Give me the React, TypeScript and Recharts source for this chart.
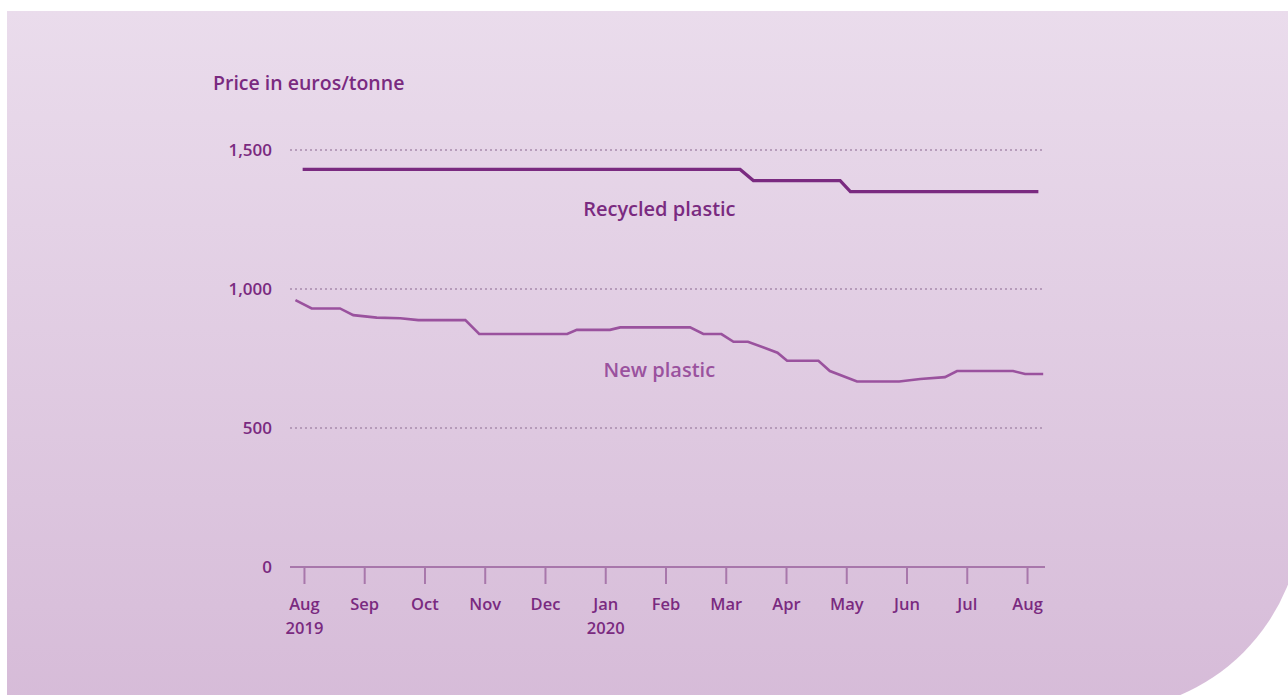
import React from "react";
import {
  LineChart, Line, XAxis, YAxis, CartesianGrid, ReferenceDot,
} from "recharts";

// x = months since Aug 2019 (tick positions), y = euros/tonne
const months = ["Aug", "Sep", "Oct", "Nov", "Dec", "Jan", "Feb", "Mar", "Apr", "May", "Jun", "Jul", "Aug"];
const years: Record<number, string> = { 0: "2019", 5: "2020" };
const monthTicks = [0, 1, 2, 3, 4, 5, 6, 7, 8, 9, 10, 11, 12];
const priceTicks = [0, 500, 1000, 1500];

const recycled = [
  { m: -0.03, v: 1430 },
  { m: 7.23, v: 1430 },
  { m: 7.45, v: 1390 },
  { m: 8.89, v: 1390 },
  { m: 9.06, v: 1350 },
  { m: 12.18, v: 1350 },
];

const virgin = [
  { m: -0.15, v: 960 },
  { m: 0.12, v: 930 },
  { m: 0.59, v: 930 },
  { m: 0.81, v: 906 },
  { m: 1.2, v: 897 },
  { m: 1.59, v: 895 },
  { m: 1.89, v: 888 },
  { m: 2.67, v: 888 },
  { m: 2.9, v: 838 },
  { m: 4.36, v: 838 },
  { m: 4.52, v: 853 },
  { m: 5.07, v: 853 },
  { m: 5.24, v: 862 },
  { m: 6.4, v: 862 },
  { m: 6.62, v: 838 },
  { m: 6.92, v: 838 },
  { m: 7.12, v: 810 },
  { m: 7.36, v: 810 },
  { m: 7.85, v: 771 },
  { m: 8.01, v: 742 },
  { m: 8.53, v: 742 },
  { m: 8.72, v: 705 },
  { m: 9.17, v: 667 },
  { m: 9.87, v: 667 },
  { m: 10.22, v: 676 },
  { m: 10.63, v: 683 },
  { m: 10.83, v: 705 },
  { m: 11.76, v: 705 },
  { m: 11.96, v: 694 },
  { m: 12.26, v: 694 },
];

const FONT = "'Open Sans', 'Noto Sans', sans-serif";
const DARK = "#7a2a80";
const LIGHT = "#9a529e";

function MonthTick({ x, y, payload }: any) {
  const yr = years[payload.value];
  return (
    <g transform={`translate(${x},${y})`}>
      <text x={0} y={0} dy={24} textAnchor="middle" fill={DARK} fontSize={16.5} fontWeight={600} fontFamily={FONT}>
        {months[payload.value]}
      </text>
      {yr && (
        <text x={0} y={0} dy={48} textAnchor="middle" fill={DARK} fontSize={16.5} fontWeight={600} fontFamily={FONT}>
          {yr}
        </text>
      )}
    </g>
  );
}

const lineLabel = (text: string, color: string) => (props: any) => {
  const { viewBox } = props;
  return (
    <text x={viewBox.x} y={viewBox.y} textAnchor="middle" dominantBaseline="central" fill={color} fontSize={20} fontWeight={600} fontFamily={FONT}>
      {text}
    </text>
  );
};

export default function App() {
  return (
    <div style={s.page}>
      <div style={s.panel} />
      <div style={s.title}>Price in euros/tonne</div>
      <div style={s.chart}>
        <LineChart width={1288} height={695} margin={{ top: 150, right: 243, bottom: 0, left: 230 }}>
          <CartesianGrid vertical={false} stroke="#a88aac" strokeDasharray="2 3" strokeWidth={1.5} />
          <XAxis
            type="number"
            dataKey="m"
            domain={[-0.24, 12.29]}
            ticks={monthTicks}
            tick={<MonthTick />}
            stroke="#a877ab"
            strokeWidth={2}
            tickSize={17}
            tickLine={{ stroke: "#a877ab", strokeWidth: 2 }}
            height={128}
            allowDataOverflow
          />
          <YAxis
            type="number"
            domain={[0, 1500]}
            ticks={priceTicks}
            width={60}
            axisLine={false}
            tickLine={false}
            tickSize={0}
            tickMargin={18}
            tickFormatter={(v: number) => v.toLocaleString("en-US")}
            tick={{ fill: DARK, fontSize: 17, fontWeight: 600, fontFamily: FONT }}
          />
          <Line data={recycled} dataKey="v" type="linear" stroke={DARK} strokeWidth={3.2} dot={false} isAnimationActive={false} />
          <Line data={virgin} dataKey="v" type="linear" stroke={LIGHT} strokeWidth={2.6} dot={false} isAnimationActive={false} />
          <ReferenceDot x={5.89} y={1288} r={0} stroke="none" label={lineLabel("Recycled plastic", DARK)} />
          <ReferenceDot x={5.89} y={712} r={0} stroke="none" label={lineLabel("New plastic", LIGHT)} />
        </LineChart>
      </div>
    </div>
  );
}

const s: Record<string, React.CSSProperties> = {
  page: { position: "fixed", left: 0, top: 0, width: 1288, height: 695, overflow: "hidden", background: "#ffffff" },
  panel: {
    position: "absolute", left: 7, top: 11, width: 1295, height: 700,
    borderBottomRightRadius: 200,
    background: "linear-gradient(180deg, #eadcec 0%, #d6bbd8 100%)",
  },
  title: {
    position: "absolute", left: 213, top: 69, fontFamily: FONT, fontSize: 19.5, fontWeight: 600, color: DARK,
  },
  chart: { position: "absolute", left: 0, top: 0 },
};
